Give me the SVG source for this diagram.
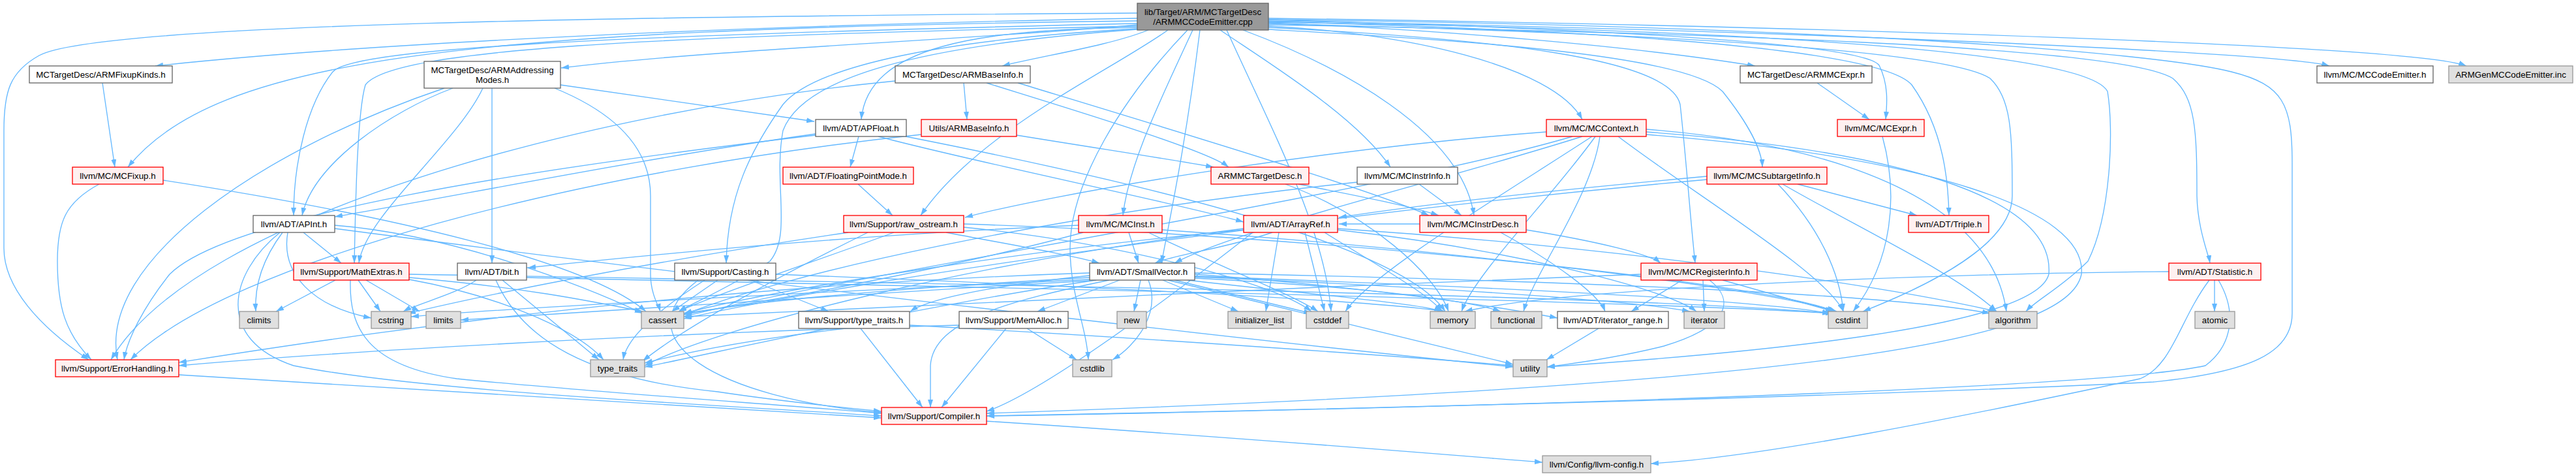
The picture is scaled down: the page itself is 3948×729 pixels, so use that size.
<svg xmlns="http://www.w3.org/2000/svg" width="3948" height="729" viewBox="0 0 3948 729">
<style>
rect{stroke-width:1.33}
.w{fill:#ffffff;stroke:#666666}
.r{fill:#fff0f0;stroke:#ff0000}
.g{fill:#e0e0e0;stroke:#999999}
.k{fill:#999999;stroke:#666666}
text{font-family:"Liberation Sans",Arial,sans-serif;font-size:13.33px;fill:#000000;text-anchor:middle}
#edges path{fill:none;stroke:#63b8ff;stroke-width:1.33;marker-end:url(#ah)}
</style>
<defs>
<marker id="ah" viewBox="0 0 12 8" refX="12" refY="4" markerWidth="12" markerHeight="8" markerUnits="userSpaceOnUse" orient="auto">
<path d="M0,0 L12,4 L0,8 z" fill="#63b8ff"/>
</marker>
</defs>
<rect x="0" y="0" width="3948" height="729" fill="#ffffff"/>
<g id="edges">
<!-- root edges -->
<path d="M1743,20 C1000,25 150,35 60,85 C15,110 6,140 6,200 L6,380 C6,440 60,500 136,551"/>
<path d="M1743,28 C1200,38 600,62 238,101"/>
<path d="M1743,32 C700,45 330,90 196,256"/>
<path d="M1743,36 C900,55 540,75 510,110 C470,160 450,250 450,330"/>
<path d="M1743,40 C1000,55 600,75 560,130 C548,170 545,300 543,403"/>
<path d="M1743,38 C1500,60 1100,75 860,104"/>
<path d="M1743,42 C1500,45 1330,70 1320,183"/>
<path d="M1743,44 C1450,60 1250,100 1200,160 C1150,230 1115,300 1113,403"/>
<path d="M1743,45 C1400,70 1230,120 1200,200 C1185,280 1214,360 1180,400 C1120,440 1060,465 1040,477"/>
<path d="M1760,46 C1700,70 1600,85 1536,101"/>
<path d="M1790,46 C1700,110 1500,200 1411,330"/>
<path d="M1820,46 C1720,150 1640,280 1640,380 C1640,450 1665,500 1668,551"/>
<path d="M1828,46 C1780,150 1730,250 1721,330"/>
<path d="M1839,46 C1820,200 1800,300 1780,403"/>
<path d="M1880,46 C1950,200 2030,350 2040,477"/>
<path d="M1870,46 C1950,100 2080,180 2131,256"/>
<path d="M1905,46 C2050,100 2240,200 2259,330"/>
<path d="M1944,40 C2150,50 2380,100 2425,183"/>
<path d="M1944,35 C2200,45 2500,70 2690,101"/>
<path d="M1944,30 C2300,40 2850,60 2880,100 C2895,130 2892,160 2890,183"/>
<path d="M1944,45 C2200,60 2580,80 2640,140 C2680,190 2700,230 2701,256"/>
<path d="M1944,33 C2400,45 2880,70 2930,130 C2980,200 2986,280 2987,330"/>
<path d="M1944,42 C2300,60 2560,90 2575,160 C2585,250 2590,330 2598,403"/>
<path d="M1944,36 C2500,50 2980,75 3050,120 C3082,150 3084,200 3084,300 C3084,360 3000,420 2855,477"/>
<path d="M1944,34 C2700,45 3200,80 3230,140 C3240,200 3235,330 3200,400 C3160,440 3120,460 3105,477"/>
<path d="M1944,38 C2600,50 3250,70 3330,120 C3365,150 3367,200 3367,300 C3368,350 3385,390 3387,403"/>
<path d="M1944,30 C2800,40 3300,80 3420,110 C3500,130 3513,160 3513,250 L3513,480 C3513,540 3450,570 3300,585 C2800,610 1900,630 1512,637"/>
<path d="M1944,32 C2700,45 3500,80 3570,101"/>
<path d="M1944,28 C2800,40 3700,70 3780,101"/>
<!-- other edges -->
<path d="M157,127 L176,256"/>
<path d="M859,130 L1248,186"/>
<path d="M694,135 C600,170 480,250 463,330"/>
<path d="M681,135 C400,230 150,400 180,551"/>
<path d="M740,135 C700,220 560,330 550,403"/>
<path d="M754,135 L754,403"/>
<path d="M850,135 C960,180 997,240 997,300 L997,420 C997,450 1010,470 1012,477"/>
<path d="M1316,209 L1303,256"/>
<path d="M1346,209 C1500,250 1800,310 1906,340"/>
<path d="M1250,205 C1000,240 700,300 513,332"/>
<path d="M1250,207 C800,260 350,330 260,420 C220,470 195,520 190,551"/>
<path d="M1388,209 C1800,290 2150,380 2215,477"/>
<path d="M1315,282 L1368,330"/>
<path d="M1558,207 C1700,230 1800,245 1860,256"/>
<path d="M1412,206 C900,260 350,400 200,551"/>
<path d="M1477,127 L1482,183"/>
<path d="M1512,127 C1650,170 1850,230 1883,256"/>
<path d="M1372,124 C900,170 300,330 170,551"/>
<path d="M1560,127 C1800,200 2100,290 2190,330"/>
<path d="M1990,282 C2080,300 2160,315 2205,330"/>
<path d="M1970,282 C2100,330 2200,420 2220,477"/>
<path d="M2175,282 L2240,330"/>
<path d="M2080,279 C1600,330 1200,420 1048,482"/>
<path d="M2370,202 C2000,230 1600,300 1479,333"/>
<path d="M2425,209 C2200,280 1900,350 1800,403"/>
<path d="M2410,209 C2100,300 1300,420 1048,485"/>
<path d="M2440,209 C2300,300 2100,420 2062,477"/>
<path d="M2445,209 C2380,300 2260,420 2240,477"/>
<path d="M2452,209 C2440,300 2350,420 2335,477"/>
<path d="M2480,209 C2600,300 2800,420 2825,477"/>
<path d="M2523,198 C2800,220 3050,300 3075,477"/>
<path d="M2523,202 C2900,230 3150,300 3140,420 C3120,500 2700,540 2371,562"/>
<path d="M2523,206 C2950,240 3200,320 3190,420 C3170,520 2800,590 1512,633"/>
<path d="M2885,209 C2910,300 2900,400 2840,477"/>
<path d="M2785,127 L2865,183"/>
<path d="M2616,270 C2400,290 2200,310 2052,333"/>
<path d="M2755,282 L2938,330"/>
<path d="M2732,282 C2850,350 3000,420 3060,477"/>
<path d="M2725,282 C2790,350 2820,420 2825,477"/>
<path d="M2616,275 C2000,330 1300,430 1048,488"/>
<path d="M152,282 C100,310 88,340 88,400 C88,470 100,510 140,551"/>
<path d="M250,276 C600,330 900,400 990,477"/>
<path d="M465,356 L523,403"/>
<path d="M433,356 C400,400 390,440 392,477"/>
<path d="M441,356 C430,420 480,470 569,487"/>
<path d="M429,356 C350,420 330,520 450,560 C650,600 1100,620 1351,637"/>
<path d="M513,345 C700,360 900,440 985,480"/>
<path d="M513,350 C1200,440 2000,530 2319,562"/>
<path d="M514,429 L423,477"/>
<path d="M549,429 L583,477"/>
<path d="M561,429 L643,477"/>
<path d="M537,429 C535,500 560,560 700,580 C900,600 1200,620 1351,633"/>
<path d="M627,425 C800,440 900,460 985,477"/>
<path d="M627,420 C1200,430 2500,450 2805,480"/>
<path d="M627,428 C750,450 880,500 925,551"/>
<path d="M730,429 C700,450 640,465 618,477"/>
<path d="M760,429 C800,520 900,580 1100,600 C1200,615 1300,625 1351,630"/>
<path d="M770,429 L918,551"/>
<path d="M807,425 C1500,440 2500,460 2810,480"/>
<path d="M1653,345 C1300,360 1000,390 809,410"/>
<path d="M1730,356 L1745,403"/>
<path d="M1660,356 C1500,400 1200,460 1048,480"/>
<path d="M1760,356 C1850,400 1980,450 2020,477"/>
<path d="M1781,352 C2200,380 2700,440 2815,477"/>
<path d="M1450,356 C1550,375 1640,390 1685,403"/>
<path d="M1370,356 C1250,400 1100,450 1040,477"/>
<path d="M1477,348 C1700,370 1950,430 2010,477"/>
<path d="M1477,343 C2000,360 2700,430 2812,477"/>
<path d="M1300,356 C1000,400 750,450 625,480"/>
<path d="M1330,356 C1200,420 1050,500 985,553"/>
<path d="M1950,356 C1880,380 1800,390 1770,403"/>
<path d="M1920,356 C1800,450 1600,600 1512,630"/>
<path d="M2050,350 C2500,380 2900,440 3060,477"/>
<path d="M1906,352 C1600,380 1200,440 1048,480"/>
<path d="M2000,356 L2030,477"/>
<path d="M1960,356 L1940,477"/>
<path d="M2050,352 C2300,380 2550,440 2600,477"/>
<path d="M2030,356 C2100,400 2190,450 2210,477"/>
<path d="M1906,350 C1500,400 1100,500 988,560"/>
<path d="M2176,343 L2052,343"/>
<path d="M2300,356 C2380,400 2450,450 2460,477"/>
<path d="M2339,352 C2450,370 2530,390 2545,403"/>
<path d="M1700,429 C1550,460 1430,490 1426,560 L1426,624"/>
<path d="M1716,429 L1590,477"/>
<path d="M1748,429 L1738,477"/>
<path d="M1760,429 C1780,480 1740,530 1705,551"/>
<path d="M1782,429 L1898,477"/>
<path d="M1670,422 C1500,440 1420,460 1395,477"/>
<path d="M1670,418 C1000,440 500,520 274,555"/>
<path d="M1831,420 C2100,440 2300,470 2387,487"/>
<path d="M1831,418 C2400,430 2900,450 3050,480"/>
<path d="M1670,425 C1400,440 1150,460 1048,482"/>
<path d="M1800,429 L2010,480"/>
<path d="M1831,423 C2300,440 2700,460 2805,480"/>
<path d="M1670,428 C1200,450 800,470 630,485"/>
<path d="M1831,426 C2100,440 2250,460 2300,477"/>
<path d="M1831,424 C2200,440 2500,460 2590,477"/>
<path d="M1670,430 C1300,450 900,480 706,490"/>
<path d="M1820,429 C2000,450 2180,465 2210,477"/>
<path d="M1680,429 C1400,470 1100,540 988,562"/>
<path d="M1790,429 C2000,480 2250,540 2319,558"/>
<path d="M1542,503 L1443,624"/>
<path d="M1574,503 L1650,551"/>
<path d="M1470,498 C1000,510 500,540 274,560"/>
<path d="M1319,503 L1414,624"/>
<path d="M1296,503 C1150,520 1050,540 988,556"/>
<path d="M1394,498 C1800,520 2200,550 2319,560"/>
<path d="M1070,429 C950,520 1100,610 1351,632"/>
<path d="M1080,429 C1000,480 960,520 955,551"/>
<path d="M1100,429 L1030,477"/>
<path d="M1150,429 L1270,477"/>
<path d="M1189,420 C1700,440 2100,460 2215,477"/>
<path d="M2578,429 L2500,477"/>
<path d="M2610,429 L2612,477"/>
<path d="M2640,429 L2810,477"/>
<path d="M2515,420 C2000,440 1300,470 1048,485"/>
<path d="M2620,429 C2660,460 2650,500 2550,530 C2470,550 2400,558 2371,562"/>
<path d="M2450,503 L2370,551"/>
<path d="M3394,429 L3394,477"/>
<path d="M3386,429 C3340,490 3330,560 3280,580 C3000,640 2700,700 2530,710"/>
<path d="M3400,429 C3430,480 3420,530 3380,560 C3200,600 2000,630 1512,637"/>
<path d="M3324,416 C3000,418 2400,440 2245,477"/>
<path d="M274,574 C700,600 1100,625 1351,640"/>
<path d="M1512,645 C1900,670 2200,695 2364,708"/>
</g>
<g id="n_root"><rect class="k" x="1743" y="5" width="201" height="41"/><text x="1843.5" y="23">lib/Target/ARM/MCTargetDesc</text><text x="1843.5" y="38">/ARMMCCodeEmitter.cpp</text></g>
<g id="n_fixupkinds"><rect class="w" x="45" y="101" width="219" height="26"/><text x="154.5" y="118.5">MCTargetDesc/ARMFixupKinds.h</text></g>
<g id="n_addrmodes"><rect class="w" x="650" y="94" width="209" height="41"/><text x="754.5" y="112">MCTargetDesc/ARMAddressing</text><text x="754.5" y="127">Modes.h</text></g>
<g id="n_baseinfo"><rect class="w" x="1372" y="101" width="207" height="26"/><text x="1475.5" y="118.5">MCTargetDesc/ARMBaseInfo.h</text></g>
<g id="n_armmcexpr"><rect class="w" x="2667" y="101" width="202" height="26"/><text x="2768" y="118.5">MCTargetDesc/ARMMCExpr.h</text></g>
<g id="n_codeemitter"><rect class="w" x="3551" y="101" width="178" height="26"/><text x="3640" y="118.5">llvm/MC/MCCodeEmitter.h</text></g>
<g id="n_geninc"><rect class="g" x="3753" y="101" width="190" height="26"/><text x="3848" y="118.5">ARMGenMCCodeEmitter.inc</text></g>
<g id="n_apfloat"><rect class="w" x="1250" y="183" width="139" height="26"/><text x="1319.5" y="200.5">llvm/ADT/APFloat.h</text></g>
<g id="n_utilsbase"><rect class="r" x="1412" y="183" width="146" height="26"/><text x="1485" y="200.5">Utils/ARMBaseInfo.h</text></g>
<g id="n_mccontext"><rect class="r" x="2370" y="183" width="153" height="26"/><text x="2446.5" y="200.5">llvm/MC/MCContext.h</text></g>
<g id="n_mcexpr"><rect class="r" x="2816" y="183" width="133" height="26"/><text x="2882.5" y="200.5">llvm/MC/MCExpr.h</text></g>
<g id="n_mcfixup"><rect class="r" x="111" y="256" width="139" height="26"/><text x="180.5" y="273.5">llvm/MC/MCFixup.h</text></g>
<g id="n_fpmode"><rect class="r" x="1200" y="256" width="200" height="26"/><text x="1300" y="273.5">llvm/ADT/FloatingPointMode.h</text></g>
<g id="n_armmctd"><rect class="r" x="1856" y="256" width="150" height="26"/><text x="1931" y="273.5">ARMMCTargetDesc.h</text></g>
<g id="n_instrinfo"><rect class="w" x="2080" y="256" width="154" height="26"/><text x="2157" y="273.5">llvm/MC/MCInstrInfo.h</text></g>
<g id="n_subtarget"><rect class="r" x="2616" y="256" width="184" height="26"/><text x="2708" y="273.5">llvm/MC/MCSubtargetInfo.h</text></g>
<g id="n_apint"><rect class="w" x="388" y="330" width="125" height="26"/><text x="450.5" y="347.5">llvm/ADT/APInt.h</text></g>
<g id="n_rawostream"><rect class="r" x="1293" y="330" width="184" height="26"/><text x="1385" y="347.5">llvm/Support/raw_ostream.h</text></g>
<g id="n_mcinst"><rect class="r" x="1653" y="330" width="128" height="26"/><text x="1717" y="347.5">llvm/MC/MCInst.h</text></g>
<g id="n_arrayref"><rect class="r" x="1906" y="330" width="144" height="26"/><text x="1978" y="347.5">llvm/ADT/ArrayRef.h</text></g>
<g id="n_instrdesc"><rect class="r" x="2176" y="330" width="163" height="26"/><text x="2257.5" y="347.5">llvm/MC/MCInstrDesc.h</text></g>
<g id="n_triple"><rect class="r" x="2925" y="330" width="123" height="26"/><text x="2986.5" y="347.5">llvm/ADT/Triple.h</text></g>
<g id="n_mathextras"><rect class="r" x="450" y="403" width="177" height="26"/><text x="538.5" y="420.5">llvm/Support/MathExtras.h</text></g>
<g id="n_bit"><rect class="w" x="701" y="403" width="106" height="26"/><text x="754" y="420.5">llvm/ADT/bit.h</text></g>
<g id="n_casting"><rect class="w" x="1034" y="403" width="155" height="26"/><text x="1111.5" y="420.5">llvm/Support/Casting.h</text></g>
<g id="n_smallvector"><rect class="w" x="1670" y="403" width="161" height="26"/><text x="1750.5" y="420.5">llvm/ADT/SmallVector.h</text></g>
<g id="n_reginfo"><rect class="r" x="2515" y="403" width="178" height="26"/><text x="2604" y="420.5">llvm/MC/MCRegisterInfo.h</text></g>
<g id="n_statistic"><rect class="r" x="3324" y="403" width="141" height="26"/><text x="3394.5" y="420.5">llvm/ADT/Statistic.h</text></g>
<g id="n_climits"><rect class="g" x="367" y="477" width="60" height="26"/><text x="397" y="494.5">climits</text></g>
<g id="n_cstring"><rect class="g" x="569" y="477" width="61" height="26"/><text x="599.5" y="494.5">cstring</text></g>
<g id="n_limits"><rect class="g" x="653" y="477" width="53" height="26"/><text x="679.5" y="494.5">limits</text></g>
<g id="n_cassert"><rect class="g" x="983" y="477" width="65" height="26"/><text x="1015.5" y="494.5">cassert</text></g>
<g id="n_typetraitsh"><rect class="w" x="1224" y="477" width="170" height="26"/><text x="1309" y="494.5">llvm/Support/type_traits.h</text></g>
<g id="n_memalloc"><rect class="w" x="1470" y="477" width="167" height="26"/><text x="1553.5" y="494.5">llvm/Support/MemAlloc.h</text></g>
<g id="n_new"><rect class="g" x="1712" y="477" width="45" height="26"/><text x="1734.5" y="494.5">new</text></g>
<g id="n_initlist"><rect class="g" x="1882" y="477" width="97" height="26"/><text x="1930.5" y="494.5">initializer_list</text></g>
<g id="n_cstddef"><rect class="g" x="2002" y="477" width="65" height="26"/><text x="2034.5" y="494.5">cstddef</text></g>
<g id="n_memory"><rect class="g" x="2192" y="477" width="69" height="26"/><text x="2226.5" y="494.5">memory</text></g>
<g id="n_functional"><rect class="g" x="2285" y="477" width="78" height="26"/><text x="2324" y="494.5">functional</text></g>
<g id="n_iterrange"><rect class="w" x="2387" y="477" width="170" height="26"/><text x="2472" y="494.5">llvm/ADT/iterator_range.h</text></g>
<g id="n_iterator"><rect class="g" x="2581" y="477" width="62" height="26"/><text x="2612" y="494.5">iterator</text></g>
<g id="n_cstdint"><rect class="g" x="2802" y="477" width="60" height="26"/><text x="2832" y="494.5">cstdint</text></g>
<g id="n_algorithm"><rect class="g" x="3048" y="477" width="74" height="26"/><text x="3085" y="494.5">algorithm</text></g>
<g id="n_atomic"><rect class="g" x="3364" y="477" width="61" height="26"/><text x="3394.5" y="494.5">atomic</text></g>
<g id="n_errorhandling"><rect class="r" x="85" y="551" width="189" height="26"/><text x="179.5" y="568.5">llvm/Support/ErrorHandling.h</text></g>
<g id="n_typetraits"><rect class="g" x="905" y="551" width="83" height="26"/><text x="946.5" y="568.5">type_traits</text></g>
<g id="n_cstdlib"><rect class="g" x="1644" y="551" width="60" height="26"/><text x="1674" y="568.5">cstdlib</text></g>
<g id="n_utility"><rect class="g" x="2319" y="551" width="52" height="26"/><text x="2345" y="568.5">utility</text></g>
<g id="n_compiler"><rect class="r" x="1351" y="624" width="161" height="26"/><text x="1431.5" y="641.5">llvm/Support/Compiler.h</text></g>
<g id="n_llvmconfig"><rect class="g" x="2364" y="698" width="166" height="26"/><text x="2447" y="715.5">llvm/Config/llvm-config.h</text></g>
</svg>
